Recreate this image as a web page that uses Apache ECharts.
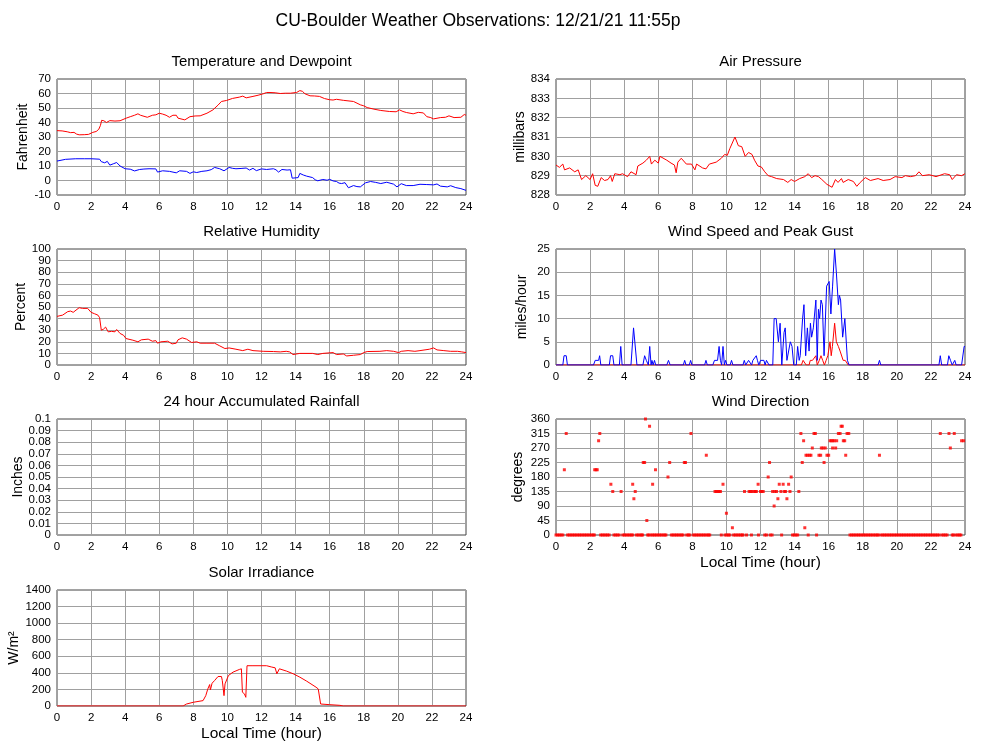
<!DOCTYPE html>
<html>
<head>
<meta charset="utf-8">
<script src="https://cdn.jsdelivr.net/npm/echarts@6/dist/echarts.min.js"></script>
<style>
html,body{margin:0;padding:0;background:#fff;}
#chart{width:1000px;height:745px;}
</style>
</head>
<body>
<div id="chart"></div>
<script>
// ---------------- DATA ----------------
const hourTicks = [0,2,4,6,8,10,12,14,16,18,20,22,24];

const temperature = [[0,34.4],[0.3,34.2],[0.6,33.6],[0.8,33],[1.0,33.2],[1.15,32],[1.3,31.5],[1.6,31.6],[1.85,31.8],[1.95,32.5],[2.1,33.2],[2.3,33.8],[2.45,35.3],[2.55,38],[2.62,41.5],[2.75,41.2],[2.9,40],[3.1,41.3],[3.4,41],[3.7,41.2],[4.06,43],[4.3,44],[4.55,45],[4.75,46],[4.9,45],[5.0,44],[5.3,43.6],[5.6,45],[5.8,45.3],[6.0,46.4],[6.2,45.8],[6.4,45],[6.6,43.6],[6.8,45],[7.0,45],[7.1,43],[7.2,41.8],[7.5,41.8],[7.8,44],[8.1,44.5],[8.4,44.6],[8.8,46.4],[9.15,48.7],[9.45,52],[9.65,54.5],[9.95,55.2],[10.3,56.6],[10.7,57.5],[10.9,58.2],[11.1,57],[11.5,58],[11.8,58.8],[12.1,59.8],[12.3,60.7],[12.5,60.7],[12.8,60.5],[13.1,60],[13.4,60.2],[13.7,60.2],[14.06,60.7],[14.25,62],[14.4,61.5],[14.55,59.8],[14.85,58.4],[15.1,58.3],[15.4,58],[15.7,56.5],[16.0,55.7],[16.2,55.5],[16.4,56],[16.8,55.3],[17.4,54.5],[17.8,52.2],[18.0,51.5],[18.2,50.3],[18.6,49.2],[19.0,48.3],[19.5,47.6],[19.9,47.4],[20.1,48.7],[20.3,47.6],[20.5,46.9],[20.9,46],[21.2,47],[21.5,46.6],[21.7,44],[21.9,43.5],[22.1,42.5],[22.5,43.4],[22.8,43.6],[23.0,44.6],[23.3,43.4],[23.7,43.6],[23.9,45.5],[24,45]];

const dewpoint = [[0,13.4],[0.5,14.6],[1.1,15],[1.6,15],[2.0,15],[2.5,14.7],[2.6,13],[2.8,12.2],[2.95,13.2],[3.1,10.6],[3.3,11.5],[3.5,12.4],[3.7,10],[4.0,8.1],[4.3,7.8],[4.55,6.6],[4.85,7.6],[5.1,7.9],[5.4,8.1],[5.8,8],[5.9,5.8],[6.2,6.7],[6.6,6.3],[7.0,5.3],[7.2,6.7],[7.6,6.3],[7.8,4.9],[8.0,6],[8.2,5.5],[8.5,6.3],[8.8,6.7],[9.05,7.5],[9.25,9],[9.55,8.1],[9.8,6.7],[10.1,9],[10.3,8.4],[10.5,8.1],[10.8,8.3],[11.1,8.6],[11.3,7.2],[11.5,8.4],[11.7,6.8],[12.0,8],[12.3,7.6],[12.7,8.1],[12.85,7.4],[13.0,5.8],[13.2,7.6],[13.5,7.2],[13.7,7.4],[13.8,1.6],[14.15,2],[14.25,4.9],[14.45,3.8],[14.65,3],[15.0,2],[15.15,0.5],[15.3,-0.2],[15.6,0.7],[15.85,0.2],[16.0,0.8],[16.2,-0.3],[16.4,-0.7],[16.55,-1.8],[16.7,-2.1],[16.9,-1.5],[17.0,-2],[17.1,-5],[17.4,-3.5],[17.6,-4.2],[17.8,-4.4],[18.1,-1.6],[18.4,-0.7],[18.7,-1.3],[19.0,-2.1],[19.35,-1.2],[19.75,-2.5],[19.95,-4.4],[20.2,-2.2],[20.5,-3.5],[20.9,-3.5],[21.3,-2.6],[21.7,-2.8],[22.1,-3],[22.3,-2.4],[22.5,-3.9],[22.9,-4.4],[23.1,-3.6],[23.4,-4.9],[23.7,-5.6],[24,-6.8]];

const pressure = [[0,829.55],[0.2,829.43],[0.4,829.6],[0.5,829.3],[0.8,829.4],[1.1,829.2],[1.3,829.3],[1.5,828.8],[1.75,829.0],[2.0,828.8],[2.15,829.1],[2.3,828.5],[2.45,828.45],[2.65,828.9],[2.85,828.75],[3.05,828.8],[3.2,829.0],[3.3,828.7],[3.45,829.1],[3.75,829.05],[3.9,829.1],[4.2,828.95],[4.4,829.2],[4.7,829.05],[4.8,829.5],[5.1,829.65],[5.3,829.8],[5.5,830.0],[5.6,829.6],[5.8,829.8],[6.0,829.65],[6.1,830.0],[6.5,829.8],[6.75,829.65],[6.95,829.55],[7.05,829.15],[7.15,829.7],[7.35,829.9],[7.65,829.6],[7.95,829.6],[8.15,829.3],[8.25,829.6],[8.6,829.4],[8.8,829.35],[9.0,829.6],[9.4,829.7],[9.7,829.9],[9.9,830.1],[10.05,830.05],[10.2,830.4],[10.5,831.0],[10.7,830.55],[10.9,830.5],[11.1,830.0],[11.3,830.2],[11.5,830.1],[11.65,829.8],[11.85,829.5],[12.05,829.45],[12.25,829.2],[12.45,829.0],[12.65,828.95],[12.95,828.85],[13.35,828.8],[13.6,828.65],[13.8,828.8],[14.0,828.7],[14.3,828.85],[14.6,828.95],[14.8,829.1],[15.0,828.9],[15.2,829.0],[15.4,828.95],[15.6,828.8],[15.9,828.55],[16.2,828.4],[16.4,828.8],[16.55,828.65],[16.75,828.85],[16.85,828.65],[17.15,828.8],[17.45,828.7],[17.65,828.45],[17.85,828.65],[18.15,828.9],[18.45,828.75],[18.9,828.85],[19.2,828.75],[19.6,828.8],[19.9,828.95],[20.3,828.9],[20.5,829.0],[20.8,828.95],[21.1,829.0],[21.3,829.2],[21.5,829.0],[21.9,829.05],[22.3,828.95],[22.8,829.1],[23.1,829.05],[23.25,828.8],[23.5,829.05],[23.8,829.0],[24,829.1]];

const humidity = [[0,41.9],[0.33,43],[0.63,46],[0.8,46.5],[0.95,45.4],[1.3,49.4],[1.5,48.8],[1.8,48.8],[2.0,45.4],[2.2,44.2],[2.4,43],[2.5,40.8],[2.6,30],[2.72,30.8],[2.85,32.7],[3.0,28.6],[3.2,29],[3.4,28.6],[3.5,30.6],[3.7,27.2],[3.9,25.7],[4.05,22.8],[4.45,21.4],[4.75,20],[4.95,21.7],[5.35,22.3],[5.6,20.5],[5.8,21],[5.9,18.8],[6.1,20],[6.5,20.5],[6.75,18.2],[7.0,18.8],[7.1,21.7],[7.35,23.4],[7.6,22.3],[7.9,19.4],[8.2,20],[8.4,18.8],[8.8,18.8],[9.25,18.8],[9.55,16.5],[9.85,14.2],[10.1,14.7],[10.5,13.6],[10.9,12.4],[11.2,13.6],[11.5,12.4],[12.1,11.8],[12.7,11.6],[13.1,11.3],[13.45,11.8],[13.65,11.3],[13.85,9],[14.25,10],[15.0,10],[15.3,9],[15.6,10],[16.2,10.7],[16.4,9],[16.8,9.5],[17.0,7.8],[17.4,8.4],[17.8,9],[18.0,10.7],[18.2,11.6],[18.95,11.8],[19.35,12.4],[19.75,11.8],[20.05,10.7],[20.2,11.8],[20.6,12.4],[21.0,11.8],[21.3,12.4],[21.85,13.6],[22.1,14.7],[22.3,13],[22.7,12.4],[23.1,11.8],[23.5,11.8],[23.75,11.3],[24,10.7]];

const rainfall = [];

const windSpeed = [[0,0],[14.4,0],[14.5,1],[14.6,1],[14.68,0],[14.85,0],[14.92,1],[15.05,1],[15.15,1],[15.25,2],[15.33,0],[15.45,1],[15.55,2],[15.65,1],[15.75,0],[15.85,1],[15.95,2],[16.08,5],[16.15,2],[16.22,4],[16.35,9],[16.45,5],[16.57,4],[16.67,3],[16.76,3],[16.85,1],[16.97,1],[17.07,1],[17.15,0],[24,0]];

const peakGust = [[0,0],[0.4,0],[0.47,2],[0.6,2],[0.67,0],[2.2,0],[2.3,1],[2.5,1],[2.56,2],[2.63,0],[3.13,0],[3.2,2],[3.33,2],[3.4,0],[3.72,0],[3.8,4],[3.88,0],[4.4,0],[4.55,8],[4.65,8],[4.75,0],[5.1,0],[5.2,2],[5.3,1],[5.42,0],[5.5,4],[5.58,0],[5.63,1],[5.7,0],[5.78,1],[5.85,0],[6.5,0],[6.6,1],[6.7,0],[7.47,0],[7.55,1],[7.63,0],[7.82,0],[7.9,1],[7.98,0],[8.72,0],[8.8,1],[8.88,0],[9.2,0],[9.3,1],[9.48,1],[9.57,4],[9.65,1],[9.72,0],[9.8,4],[9.88,0],[9.95,1],[10.03,0],[10.22,0],[10.3,1],[10.38,0],[10.97,0],[11.05,1],[11.13,0],[11.22,0],[11.3,1],[11.4,1],[11.48,0],[11.55,1],[11.65,1],[11.75,2],[11.82,1],[11.9,0],[12.0,1],[12.2,1],[12.27,0],[12.35,1],[12.42,1],[12.5,0],[12.72,0],[12.8,10],[12.92,10],[13.05,5],[13.15,9],[13.25,0],[13.38,7],[13.45,8],[13.55,1],[13.65,1],[13.75,5],[13.85,4],[13.95,0],[14.1,0],[14.18,4],[14.27,1],[14.33,2],[14.47,10],[14.55,13],[14.65,2],[14.75,8],[14.85,3],[14.93,9],[15.0,6],[15.1,8],[15.18,8],[15.25,14],[15.33,1],[15.4,12],[15.47,10],[15.55,14],[15.63,13],[15.73,2],[15.88,17],[15.95,17],[16.03,18],[16.13,11],[16.23,17],[16.35,25],[16.45,20],[16.57,13],[16.63,15],[16.7,14],[16.82,6],[16.95,10],[17.1,1],[17.2,0],[18.9,0],[18.98,1],[19.06,0],[22.47,0],[22.55,2],[22.63,0],[22.97,0],[23.05,2],[23.15,1],[23.25,0],[23.33,0],[23.4,1],[23.48,0],[23.8,0],[23.95,4],[24,4]];

const calmTimes = [0,0.1,0.2,0.3,0.4,0.68,0.78,0.88,0.98,1.08,1.18,1.28,1.38,1.48,1.58,1.68,1.78,1.88,1.98,2.08,2.18,2.25,2.62,2.72,2.82,2.92,3.02,3.12,3.4,3.5,3.6,3.7,3.92,4.02,4.12,4.22,4.32,4.42,4.5,4.72,4.82,4.92,5.02,5.08,5.38,5.45,5.58,5.68,5.78,5.88,5.98,6.08,6.18,6.28,6.38,6.45,6.77,6.87,6.97,7.07,7.17,7.27,7.37,7.45,7.67,7.77,7.84,8.05,8.15,8.25,8.35,8.45,8.55,8.65,8.75,8.85,8.95,9.02,9.7,9.92,10.02,10.12,10.2,10.42,10.52,10.62,10.72,10.82,10.92,10.97,11.18,11.47,11.88,12.25,12.35,12.57,12.68,13.24,13.88,13.98,14.08,14.18,14.8,15.29,17.25,17.35,17.45,17.55,17.65,17.75,17.85,17.95,18.05,18.15,18.25,18.35,18.45,18.55,18.65,18.75,18.85,18.92,19.08,19.18,19.28,19.38,19.48,19.58,19.68,19.78,19.88,19.98,20.08,20.18,20.28,20.38,20.48,20.58,20.68,20.78,20.88,20.98,21.08,21.18,21.28,21.38,21.48,21.58,21.68,21.78,21.88,21.98,22.08,22.18,22.28,22.38,22.48,22.65,22.75,22.85,22.95,23.25,23.33,23.48,23.58,23.68,23.76];

const windDirection = [[0.49,202.5],[0.6,315],[2.27,202.5],[2.35,202.5],[2.42,202.5],[2.5,292.5],[2.57,315],[3.22,157.5],[3.33,135],[3.82,135],[4.5,157.5],[4.57,112.5],[4.65,135],[5.12,225],[5.2,225],[5.25,360],[5.33,45],[5.49,337.5],[5.67,157.5],[5.84,202.5],[6.57,180],[6.67,225],[7.53,225],[7.6,225],[7.92,315],[8.82,247.5],[9.33,135],[9.41,135],[9.49,135],[9.57,135],[9.65,135],[9.8,157.5],[10.0,67.5],[10.35,22.5],[11.06,135],[11.33,135],[11.41,135],[11.49,135],[11.61,135],[11.69,135],[11.76,135],[11.86,157.5],[12.0,135],[12.08,135],[12.16,135],[12.45,180],[12.53,225],[12.71,135],[12.8,90],[12.84,135],[12.94,135],[13.02,112.5],[13.1,157.5],[13.2,135],[13.33,157.5],[13.4,135],[13.47,135],[13.55,112.5],[13.65,157.5],[13.73,135],[13.8,180],[14.25,135],[14.37,315],[14.45,225],[14.53,292.5],[14.6,22.5],[14.67,247.5],[14.76,247.5],[14.88,247.5],[14.96,247.5],[15.04,270],[15.14,315],[15.22,315],[15.43,247.5],[15.53,247.5],[15.57,270],[15.67,270],[15.73,225],[15.8,270],[15.9,247.5],[16.0,247.5],[16.08,292.5],[16.16,292.5],[16.23,270],[16.25,292.5],[16.33,292.5],[16.41,270],[16.47,292.5],[16.57,315],[16.67,315],[16.73,337.5],[16.8,337.5],[16.86,292.5],[16.94,292.5],[17.0,247.5],[17.08,315],[17.18,315],[18.98,247.5],[22.55,315],[23.06,315],[23.14,270],[23.37,315],[23.8,292.5],[23.92,292.5]];

const solar = [[0,0],[7.4,0],[7.6,24],[8.0,45],[8.57,65],[8.73,125],[8.85,206],[8.96,259],[9.0,194],[9.1,275],[9.25,308],[9.45,356],[9.65,356],[9.7,308],[9.8,125],[9.86,267],[9.94,275],[10.06,368],[10.33,409],[10.7,441],[10.82,449],[10.88,166],[11.0,146],[11.08,105],[11.15,486],[11.5,486],[12.3,486],[12.6,470],[12.8,461],[12.9,389],[13.05,449],[13.47,421],[13.86,389],[14.25,348],[14.65,300],[15.2,227],[15.33,206],[15.47,24],[16.0,16],[16.6,8],[16.8,0],[24,0]];

// ---------------- LAYOUT ----------------
const FONT = 'Liberation Sans, Arial, Helvetica, sans-serif';
const LX = 57, RX = 556, W = 409, H = 116;
const TOPS = [79, 249, 419, 590];

const panels = [
  {title:'Temperature and Dewpoint', x:LX, y:TOPS[0], min:-10, max:70, interval:10, name:'Fahrenheit', gap:26},
  {title:'Air Pressure', x:RX, y:TOPS[0], min:828, max:834, interval:1, name:'millibars', gap:28},
  {title:'Relative Humidity', x:LX, y:TOPS[1], min:0, max:100, interval:10, name:'Percent', gap:27, dense:true},
  {title:'Wind Speed and Peak Gust', x:RX, y:TOPS[1], min:0, max:25, interval:5, name:'miles/hour', gap:27},
  {title:'24 hour Accumulated Rainfall', x:LX, y:TOPS[2], min:0, max:0.1, interval:0.01, name:'Inches', gap:31, dense:true},
  {title:'Wind Direction', x:RX, y:TOPS[2], min:0, max:360, interval:45, name:'degrees', gap:31, xname:true},
  {title:'Solar Irradiance', x:LX, y:TOPS[3], min:0, max:1400, interval:200, name:'W/m²', gap:32, xname:true}
];

const titles = [{
  text:'CU-Boulder Weather Observations: 12/21/21 11:55p',
  left:478, top:21, textAlign:'center', textVerticalAlign:'middle', padding:0,
  textStyle:{fontFamily:FONT, fontSize:17.5, fontWeight:'normal', color:'#000'}
}];
const grids = [], xAxes = [], yAxes = [], mainY = [];
const fmt = v => String(+v.toFixed(2));
const labelBase = {fontFamily:FONT, fontSize:11.5, color:'#000', margin:6};

panels.forEach((p,i) => {
  titles.push({text:p.title, left:p.x + W/2, top:p.y - 17, textAlign:'center', textVerticalAlign:'middle', padding:0,
    textStyle:{fontFamily:FONT, fontSize:15, fontWeight:'normal', color:'#000'}});
  grids.push({left:p.x, top:p.y, width:W, height:H, show:true, borderColor:'#444', borderWidth:1, backgroundColor:'#fff', containLabel:false});
  xAxes.push({gridIndex:i, type:'value', min:0, max:24, interval:2,
    name: p.xname ? 'Local Time (hour)' : '', nameLocation:'middle', nameGap:20,
    nameTextStyle:{fontFamily:FONT, fontSize:15.5, color:'#000'},
    axisLine:{show:false}, axisTick:{show:false},
    splitLine:{show:true, lineStyle:{color:'#a0a0a0', width:1}},
    axisLabel:Object.assign({}, labelBase, {showMinLabel:true, showMaxLabel:true})});
  const steps = Math.round((p.max - p.min) / p.interval);
  const isEven = v => Math.round((v - p.min) / p.interval) % 2 === 0;
  mainY.push(yAxes.length);
  yAxes.push({gridIndex:i, type:'value', min:p.min, max:p.max, interval:p.interval,
    name:p.name, nameLocation:'middle', nameGap:p.gap, nameRotate:90,
    nameTextStyle:{fontFamily:FONT, fontSize:14, color:'#000'},
    axisLine:{show:false}, axisTick:{show:false},
    splitLine:{show:true, lineStyle:{color:'#a0a0a0', width:1}},
    axisLabel:Object.assign({}, labelBase, {showMinLabel:true, showMaxLabel:true,
      formatter: p.dense ? (v => isEven(v) ? fmt(v) : '') : fmt})});
  if (p.dense) {
    // companion axis on the same side carrying the alternate tick labels
    yAxes.push({gridIndex:i, type:'value', min:p.min, max:p.max, interval:p.interval, position:'left', offset:0,
      axisLine:{show:false}, axisTick:{show:false}, splitLine:{show:false},
      axisLabel:Object.assign({}, labelBase, {formatter: v => isEven(v) ? '' : fmt(v)})});
  }
});

function line(idx, data, color){
  return {type:'line', xAxisIndex:idx, yAxisIndex:mainY[idx], data:data, showSymbol:false, symbol:'none',
    lineStyle:{color:color, width:1}, itemStyle:{color:color}, animation:false, silent:true};
}

const calmPoints = calmTimes.map(t => [t, 0]);

const option = {
  animation:false,
  backgroundColor:'#fff',
  title:titles,
  grid:grids,
  xAxis:xAxes,
  yAxis:yAxes,
  series:[
    line(0, temperature, '#ff0000'),
    line(0, dewpoint, '#0000ff'),
    line(1, pressure, '#ff0000'),
    line(2, humidity, '#ff0000'),
    line(3, windSpeed, '#ff0000'),
    line(3, peakGust, '#0000ff'),
    line(4, rainfall, '#ff0000'),
    {type:'scatter', xAxisIndex:5, yAxisIndex:mainY[5], data:calmPoints.concat(windDirection), symbol:'rect', symbolSize:3,
      itemStyle:{color:'#ff0000'}, animation:false, silent:true},
    line(6, solar, '#ff0000')
  ]
};

const chart = echarts.init(document.getElementById('chart'), null, {renderer:'canvas'});
chart.setOption(option);
</script>
</body>
</html>
